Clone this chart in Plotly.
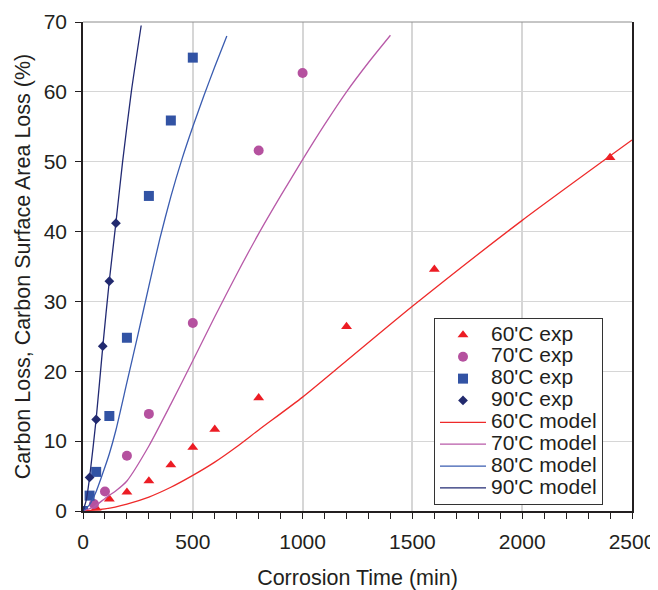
import plotly.graph_objects as go

# Experimental data (Corrosion time in min, loss in %)
t60_exp = [0, 60, 120, 200, 300, 400, 500, 600, 800, 1200, 1600, 2400]
y60_exp = [0, 0.4, 1.7, 2.7, 4.3, 6.6, 9.1, 11.7, 16.2, 26.4, 34.6, 50.6]

t70_exp = [0, 50, 100, 200, 300, 500, 800, 1000]
y70_exp = [0, 1.0, 2.8, 7.9, 13.9, 26.9, 51.6, 62.7]

t80_exp = [0, 30, 60, 120, 200, 300, 400, 500]
y80_exp = [0, 2.2, 5.6, 13.6, 24.8, 45.1, 55.9, 64.9]

t90_exp = [0, 30, 60, 90, 120, 150]
y90_exp = [0, 4.8, 13.1, 23.6, 32.9, 41.2]

# Model curves
t60_mod = [0, 100, 200, 300, 400, 500, 600, 700, 800, 1000, 1200, 1500, 2000, 2500]
y60_mod = [0, 0.3, 1.0, 2.0, 3.4, 5.1, 7.0, 9.2, 11.6, 16.3, 21.5, 29.3, 41.6, 53.1]

t70_mod = [0, 50, 100, 150, 200, 300, 400, 500, 600, 700, 800, 900, 1000, 1100, 1200, 1300, 1400]
y70_mod = [0, 0.6, 1.8, 2.9, 4.3, 9.3, 15.3, 21.5, 27.8, 33.9, 39.7, 45.1, 50.3, 55.3, 60.0, 64.2, 68.1]

t80_mod = [0, 30, 60, 90, 120, 150, 200, 250, 300, 350, 400, 450, 500, 550, 600, 655]
y80_mod = [0, 0.9, 2.8, 5.4, 8.2, 11.6, 18.4, 25.2, 32.2, 39.0, 45.0, 50.3, 55.0, 59.4, 63.6, 68.0]

t90_mod = [0, 15, 30, 60, 90, 120, 150, 180, 220, 265]
y90_mod = [0, 1.6, 4.8, 13.2, 23.5, 33.0, 41.3, 49.9, 60.0, 69.5]

names_exp = ["60'C exp", "70'C exp", "80'C exp", "90'C exp"]
names_mod = ["60'C model", "70'C model", "80'C model", "90'C model"]

x_ticks = [0, 500, 1000, 1500, 2000, 2500]
y_ticks = [0, 10, 20, 30, 40, 50, 60, 70]

FONT = "Liberation Sans, Arial, sans-serif"
LEG_TXT = "<span style='font-size:21px'>{}</span>"

fig = go.Figure()

exp_sets = [
    (t60_exp, y60_exp, "triangle-up", "#EC1C24", 9.5),
    (t70_exp, y70_exp, "circle", "#B5519F", 10),
    (t80_exp, y80_exp, "square", "#3253A4", 10),
    (t90_exp, y90_exp, "diamond", "#222A6E", 7.5),
]
for (tx, ty, sym, col, sz), nm in zip(exp_sets, names_exp):
    fig.add_trace(go.Scatter(
        x=tx, y=ty, mode="markers", name=LEG_TXT.format(nm),
        marker=dict(symbol=sym, color=col, size=sz, line=dict(width=0)),
    ))

mod_sets = [
    (t60_mod, y60_mod, "#EE2A2A"),
    (t70_mod, y70_mod, "#B85AA8"),
    (t80_mod, y80_mod, "#3A5CB0"),
    (t90_mod, y90_mod, "#222A73"),
]
for (tx, ty, col), nm in zip(mod_sets, names_mod):
    fig.add_trace(go.Scatter(
        x=tx, y=ty, mode="lines", name=LEG_TXT.format(nm),
        line=dict(color=col, width=1.3, shape="spline", smoothing=0.6),
    ))

# The page body has an 8px default margin, so the figure is 650x582
fig.update_layout(
    width=650, height=582,
    margin=dict(l=75, r=26, t=14, b=79),
    paper_bgcolor="white", plot_bgcolor="white",
    font=dict(family=FONT, size=21, color="#231F20"),
    showlegend=True,
    legend=dict(
        x=(434 - 83) / 549, y=(511 - 505) / 489, xanchor="left", yanchor="bottom",
        bordercolor="#333333", borderwidth=1, bgcolor="white",
        font=dict(family=FONT, size=14.5, color="#231F20"),
        tracegroupgap=0, itemwidth=46, entrywidth=134, entrywidthmode="pixels",
    ),
    shapes=[dict(type="line", xref="paper", yref="paper", x0=0, x1=1, y0=1, y1=1,
                 line=dict(color="#8C8C8C", width=1))],
)

fig.update_xaxes(
    range=[0, 2500], tickvals=x_ticks, ticktext=[str(v) for v in x_ticks],
    tickfont=dict(size=21),
    showgrid=True, gridcolor="#D6D6D6", gridwidth=1.5,
    showline=True, linecolor="#231F20", linewidth=1.5,
    ticks="outside", ticklen=6, tickcolor="#231F20", tickwidth=1,
    minor=dict(dtick=100, ticks="outside", ticklen=6, tickcolor="#231F20", showgrid=False),
    zeroline=False, ticklabelstandoff=5, automargin=False,
    title=dict(text="Corrosion Time (min)", font=dict(size=21.5), standoff=19),
)
fig.update_yaxes(
    range=[0, 70], tickvals=y_ticks, ticktext=[str(v) for v in y_ticks],
    tickfont=dict(size=21),
    showgrid=True, gridcolor="#D6D6D6", gridwidth=1,
    showline=True, linecolor="#231F20", linewidth=1.5, mirror=True,
    ticks="outside", ticklen=6, tickcolor="#231F20", tickwidth=1,
    zeroline=False, ticklabelstandoff=4, automargin=False,
    title=dict(text="Carbon Loss, Carbon Surface Area Loss (%)", font=dict(size=21.5), standoff=7),
)

fig.write_html("out.html")
